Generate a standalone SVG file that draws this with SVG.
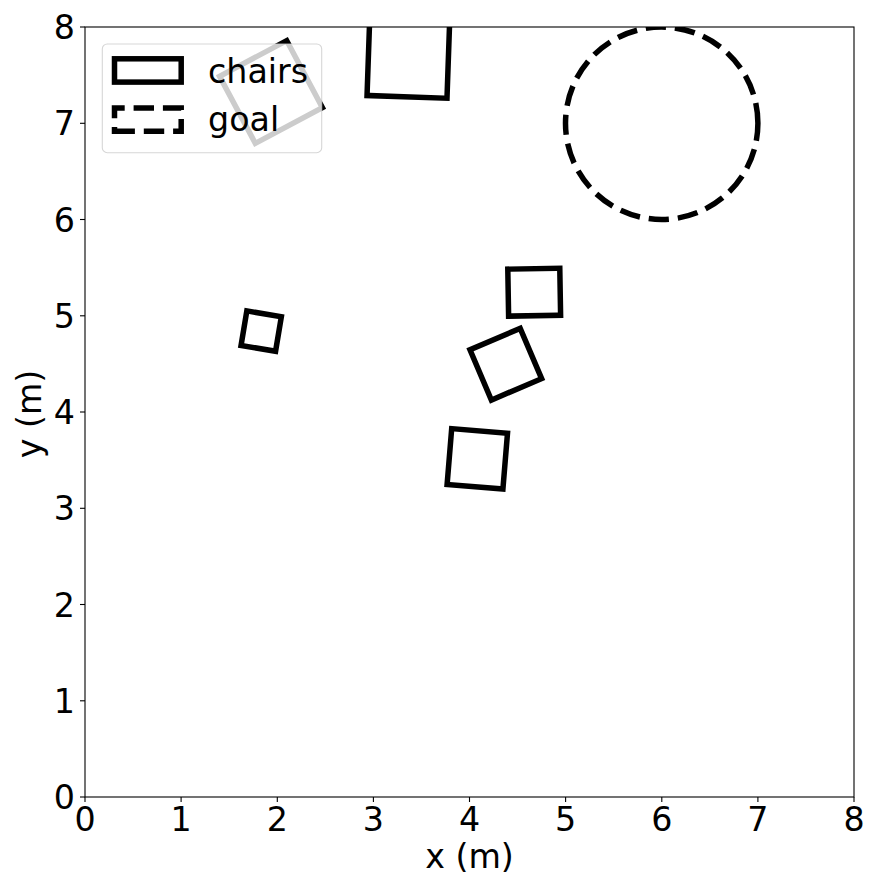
<svg xmlns="http://www.w3.org/2000/svg" width="881" height="889" viewBox="0 0 881 889">
<style>
text{font-family:"DejaVu Sans","Liberation Sans",sans-serif;font-size:33.3px;fill:#000}
.xt{text-anchor:middle}
.yt{text-anchor:end}
.chair{fill:none;stroke:#000;stroke-width:5.5;stroke-linejoin:miter}
.goal{fill:none;stroke:#000;stroke-width:5.5;stroke-dasharray:20.4 8.9}
.tick{stroke:#000;stroke-width:1.1}
</style>
<defs>
<clipPath id="ax"><rect x="85" y="27" width="769" height="770"/></clipPath>
</defs>
<rect width="881" height="889" fill="#fff"/>
<g id="plot" clip-path="url(#ax)">
  <g id="chair1"><rect class="chair" x="-38" y="-38" width="76" height="76" transform="translate(271,92) rotate(-28)"/></g>
  <g id="chair2"><rect class="chair" x="-40" y="-40" width="80" height="80" transform="translate(408.4,56.9) rotate(2)"/></g>
  <g id="chair3"><rect class="chair" x="-26" y="-23.5" width="52" height="47" transform="translate(534.2,292.2) rotate(-1)"/></g>
  <g id="chair4"><rect class="chair" x="-27.3" y="-27.3" width="54.6" height="54.6" transform="translate(505.8,364.2) rotate(-23.1)"/></g>
  <g id="chair5"><rect class="chair" x="-28" y="-28" width="56" height="56" transform="translate(477.3,458.8) rotate(4.7)"/></g>
  <g id="chair6"><rect class="chair" x="-17.5" y="-17.5" width="35" height="35" transform="translate(261.2,331.1) rotate(9.5)"/></g>
  <g id="goal"><path class="goal" d="M757.9 123.25 A96.2 96.2 0 0 0 565.5 123.25 A96.2 96.2 0 0 0 757.9 123.25 Z"/></g>
</g>
<g id="axes">
  <rect x="85" y="27" width="769" height="770" fill="none" stroke="#000" stroke-width="1.1"/>
  <g class="tick">
    <line x1="85" y1="797" x2="85" y2="802"/>
    <line x1="181.1" y1="797" x2="181.1" y2="802"/>
    <line x1="277.3" y1="797" x2="277.3" y2="802"/>
    <line x1="373.4" y1="797" x2="373.4" y2="802"/>
    <line x1="469.5" y1="797" x2="469.5" y2="802"/>
    <line x1="565.6" y1="797" x2="565.6" y2="802"/>
    <line x1="661.8" y1="797" x2="661.8" y2="802"/>
    <line x1="757.9" y1="797" x2="757.9" y2="802"/>
    <line x1="854" y1="797" x2="854" y2="802"/>
    <line x1="80" y1="797" x2="85" y2="797"/>
    <line x1="80" y1="700.8" x2="85" y2="700.8"/>
    <line x1="80" y1="604.5" x2="85" y2="604.5"/>
    <line x1="80" y1="508.3" x2="85" y2="508.3"/>
    <line x1="80" y1="412" x2="85" y2="412"/>
    <line x1="80" y1="315.8" x2="85" y2="315.8"/>
    <line x1="80" y1="219.5" x2="85" y2="219.5"/>
    <line x1="80" y1="123.3" x2="85" y2="123.3"/>
    <line x1="80" y1="27" x2="85" y2="27"/>
  </g>
  <g class="xt">
    <text x="85" y="831">0</text>
    <text x="181.1" y="831">1</text>
    <text x="277.3" y="831">2</text>
    <text x="373.4" y="831">3</text>
    <text x="469.5" y="831">4</text>
    <text x="565.6" y="831">5</text>
    <text x="661.8" y="831">6</text>
    <text x="757.9" y="831">7</text>
    <text x="854" y="831">8</text>
  </g>
  <g class="yt">
    <text x="75" y="809.1">0</text>
    <text x="75" y="712.9">1</text>
    <text x="75" y="616.6">2</text>
    <text x="75" y="520.4">3</text>
    <text x="75" y="424.1">4</text>
    <text x="75" y="327.9">5</text>
    <text x="75" y="231.6">6</text>
    <text x="75" y="135.4">7</text>
    <text x="75" y="39.1">8</text>
  </g>
  <text x="469.5" y="868" text-anchor="middle">x (m)</text>
  <text x="41" y="414" text-anchor="middle" transform="rotate(-90 41 414)">y (m)</text>
</g>
<g id="legend">
  <rect x="102.3" y="44" width="219.4" height="108.7" rx="5" fill="#fff" fill-opacity="0.8" stroke="#ccc" stroke-opacity="0.8" stroke-width="1.1"/>
  <rect class="chair" x="114.5" y="58.8" width="66.7" height="23.3"/>
  <path class="goal" d="M114.5 131.3 H181.2 V108 H114.5 Z"/>
  <text x="208" y="82.5">chairs</text>
  <text x="208" y="131">goal</text>
</g>
</svg>
